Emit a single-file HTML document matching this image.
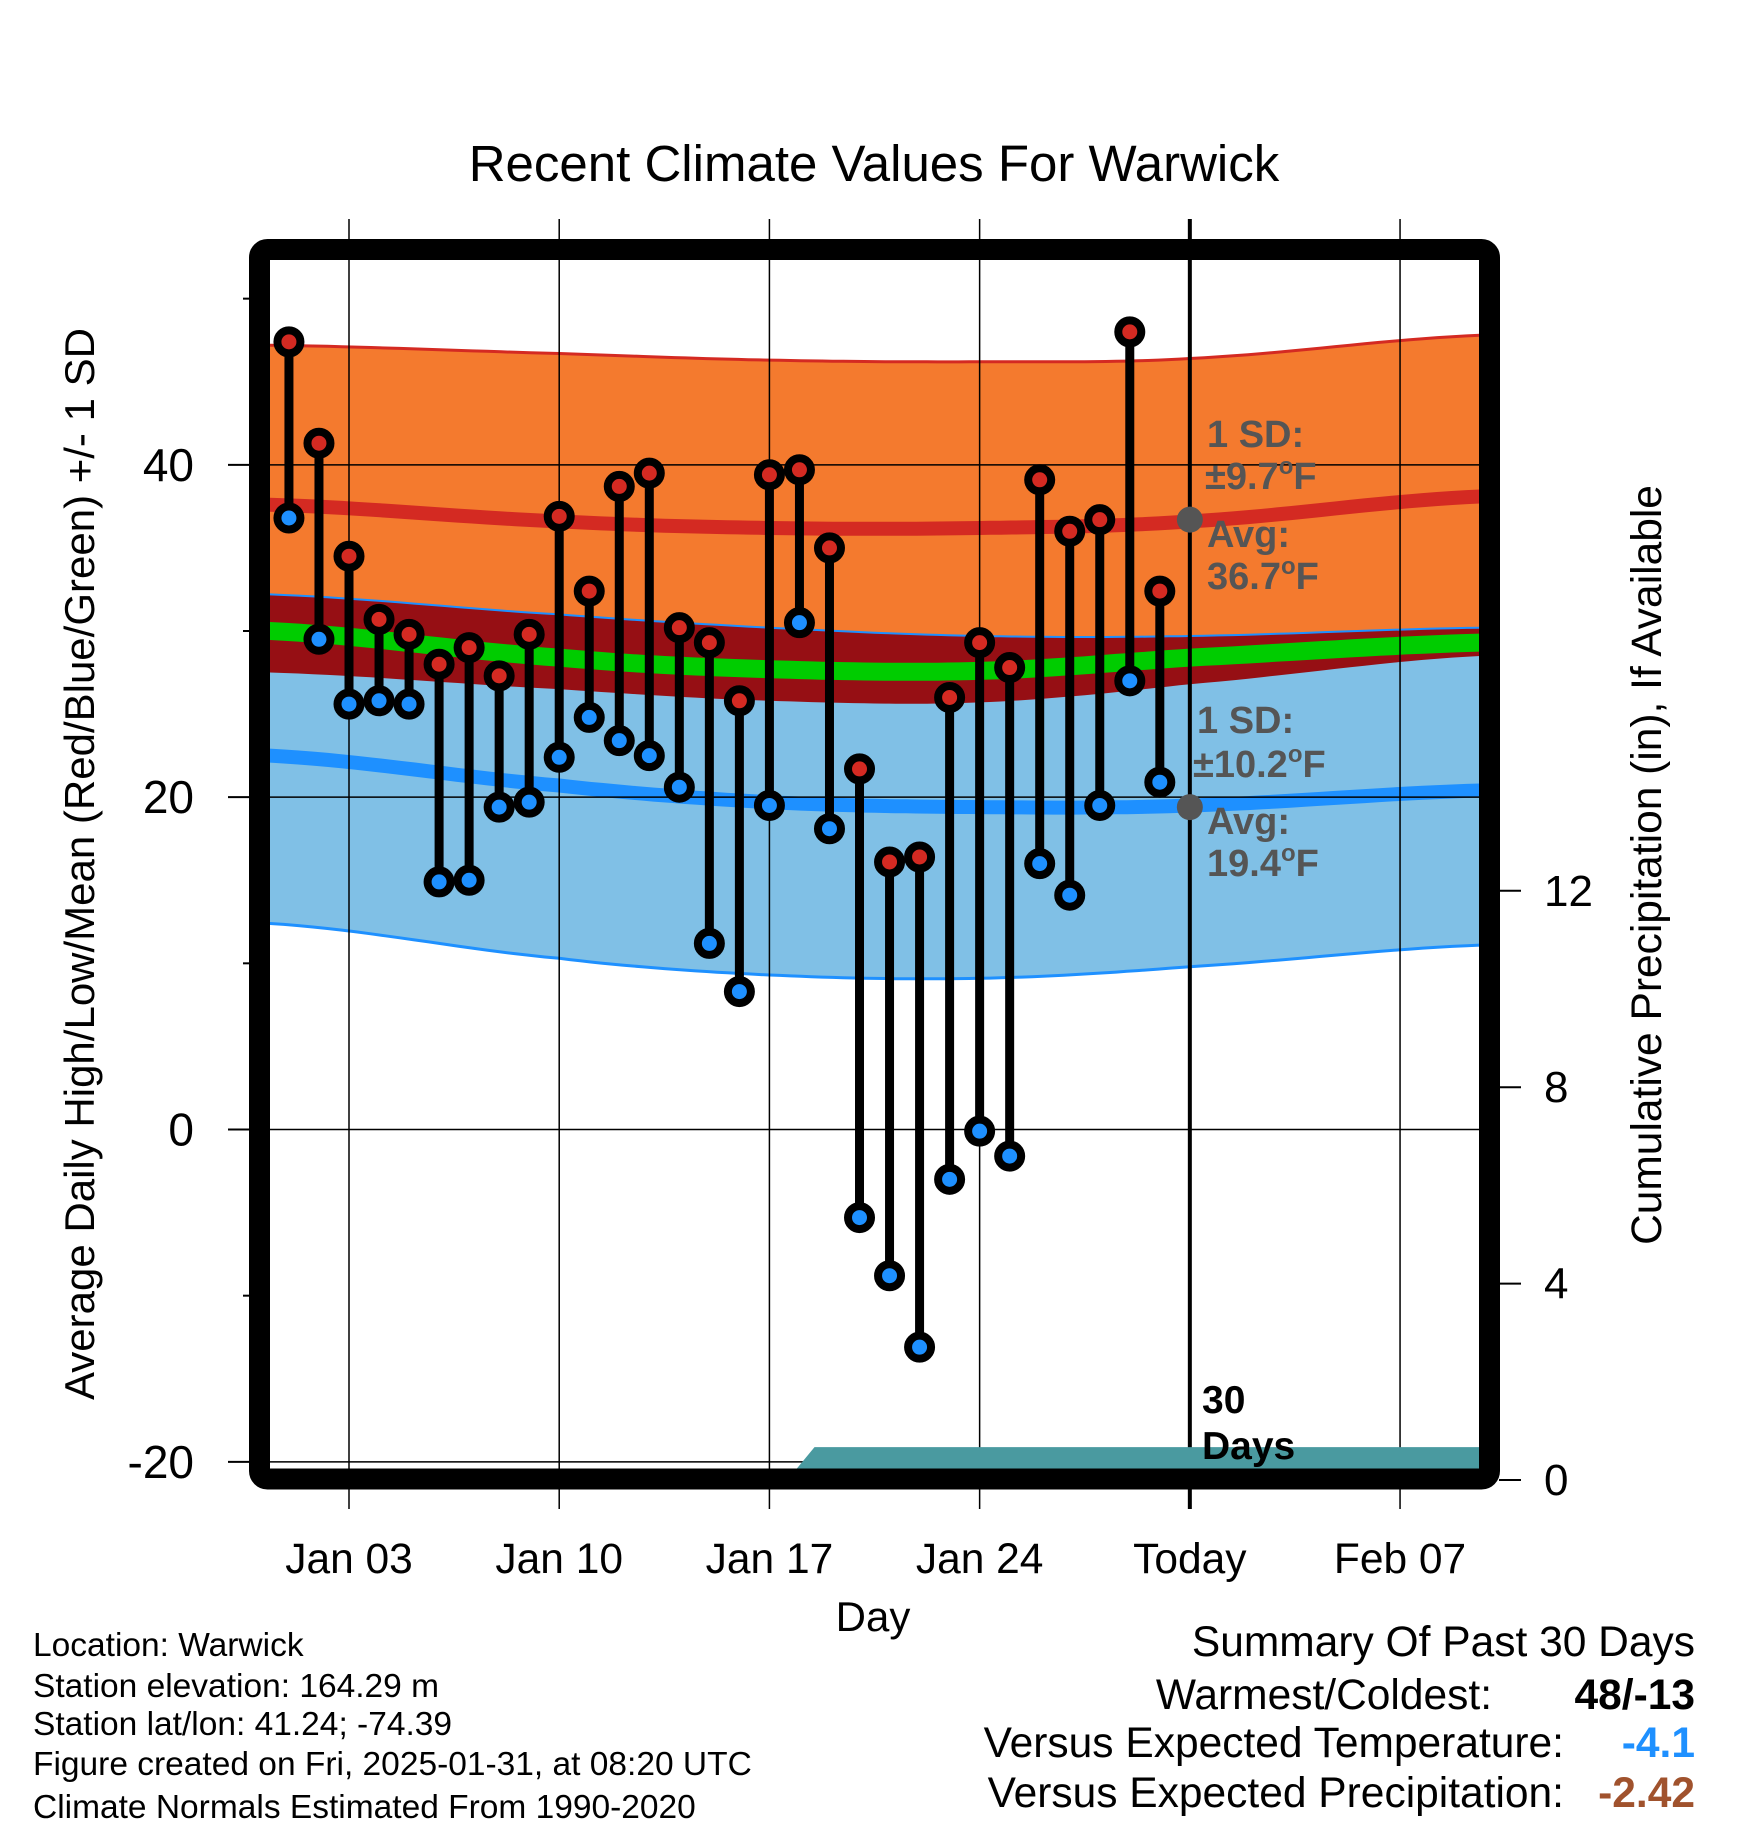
<!DOCTYPE html>
<html><head><meta charset="utf-8"><style>
html,body{margin:0;padding:0;background:#fff}
svg{display:block}
text{font-family:"Liberation Sans",Arial,sans-serif}
</style></head><body>
<svg id="chart" width="1748" height="1828" viewBox="0 0 1748 1828" xmlns="http://www.w3.org/2000/svg">
<defs><clipPath id="plotclip"><rect x="270" y="260" width="1210" height="1210"/></clipPath></defs>
<rect width="1748" height="1828" fill="#fff"/>
<text x="874" y="181" text-anchor="middle" font-size="51">Recent Climate Values For Warwick</text>
<g id="bands" clip-path="url(#plotclip)"></g>
<g id="grid"></g>
<g id="precip" clip-path="url(#plotclip)"></g>
<g id="marks"></g>
<g id="frame">
<rect x="259.5" y="249.5" width="1230" height="1229.5" rx="8" fill="none" stroke="#000" stroke-width="21"/>
</g>
<g id="axes"></g>
<g font-weight="bold" font-size="38" fill="#555">
<text x="1207" y="447">1 SD:</text>
<text x="1205" y="489">±9.7<tspan dy="-15" font-size="24">o</tspan><tspan dy="15">F</tspan></text>
<text x="1207" y="547">Avg:</text>
<text x="1207" y="589">36.7<tspan dy="-15" font-size="24">o</tspan><tspan dy="15">F</tspan></text>
<text x="1197" y="733">1 SD:</text>
<text x="1193" y="777">±10.2<tspan dy="-15" font-size="24">o</tspan><tspan dy="15">F</tspan></text>
<text x="1207" y="834">Avg:</text>
<text x="1207" y="876">19.4<tspan dy="-15" font-size="24">o</tspan><tspan dy="15">F</tspan></text>
</g>
<g font-weight="bold" font-size="39" fill="#000">
<text x="1202" y="1413">30</text><text x="1202" y="1459">Days</text>
</g>
<text x="873" y="1631" text-anchor="middle" font-size="42">Day</text>
<text transform="translate(94,864) rotate(-90)" text-anchor="middle" font-size="42">Average Daily High/Low/Mean (Red/Blue/Green) +/- 1 SD</text>
<text transform="translate(1661,865) rotate(-90)" text-anchor="middle" font-size="42.5">Cumulative Precipitation (in), If Available</text>
<g font-size="33.5">
<text x="33" y="1656">Location: Warwick</text>
<text x="33" y="1697">Station elevation: 164.29 m</text>
<text x="33" y="1735">Station lat/lon: 41.24; -74.39</text>
<text x="33" y="1775">Figure created on Fri, 2025-01-31, at 08:20 UTC</text>
<text x="33" y="1818">Climate Normals Estimated From 1990-2020</text>
</g>
<g font-size="42.5" text-anchor="end">
<text x="1695" y="1656">Summary Of Past 30 Days</text>
<text x="1492" y="1709">Warmest/Coldest:</text>
<text x="1695" y="1709" font-weight="bold">48/-13</text>
<text x="1564" y="1757">Versus Expected Temperature:</text>
<text x="1695" y="1757" font-weight="bold" fill="#1e90ff">-4.1</text>
<text x="1564" y="1807">Versus Expected Precipitation:</text>
<text x="1695" y="1807" font-weight="bold" fill="#a0522d">-2.42</text>
</g>
</svg>
<script>
// ---- data ----
const bandDays = [0.35, 10, 17, 24, 31, 40.7];
const highUpper = [47.2, 46.7, 46.3, 46.2, 46.4, 47.8];
const highAvg   = [37.6, 36.6, 36.2, 36.2, 36.6, 38.1];
const highLower = [27.5, 26.5, 25.8, 25.7, 26.8, 28.5];
const meanLine  = [30.0, 28.4, 27.7, 27.6, 28.4, 29.3];
const lowUpper  = [32.2, 31.0, 30.2, 29.7, 29.7, 30.2];
const lowAvg    = [22.5, 20.7, 19.7, 19.4, 19.5, 20.4];
const lowLower  = [12.4, 10.3, 9.3, 9.1, 9.8, 11.1];
const dayNums = [1,2,3,4,5,6,7,8,9,10,11,12,13,14,15,16,17,18,19,20,21,22,23,24,25,26,27,28,29,30];
const highs = [47.4,41.3,34.5,30.7,29.8,28.0,29.0,27.3,29.8,36.9,32.4,38.7,39.5,30.2,29.3,25.8,39.4,39.7,35.0,21.7,16.1,16.4,26.0,29.3,27.8,39.1,36.0,36.7,48.0,32.4];
const lows  = [36.8,29.5,25.6,25.8,25.6,14.9,15.0,19.4,19.7,22.4,24.8,23.4,22.5,20.6,11.2,8.3,19.5,30.5,18.1,-5.3,-8.8,-13.1,-3.0,-0.1,-1.6,16.0,14.1,19.5,27.0,20.9];
const precipDays = [17.6, 18.5, 40.7];
const precipCum  = [0, 0.67, 0.67];
const xTickDays = [3, 10, 17, 24, 31, 38];
const xTickLabels = ["Jan 03","Jan 10","Jan 17","Jan 24","Today","Feb 07"];
const yTicks = [40, 20, 0, -20];
const yMinorTicks = [50, 30, 10, -10];
const pTicks = [0, 4, 8, 12];
const todayDay = 31;
const todayHigh = 36.7;
const todayLow = 19.4;

// ---- scales ----
const NS = "http://www.w3.org/2000/svg";
function xOf(d){ return 349 + (d - 3) * 30.03; }
function yOf(f){ return 1129.5 - f * 16.617; }
function pOf(p){ return 1480 - p * 49.1; }
function mk(tag, attrs, parent){
  const e = document.createElementNS(NS, tag);
  for (const k in attrs) e.setAttribute(k, attrs[k]);
  parent.appendChild(e);
  return e;
}
function smoothPts(days, vals){
  const pts = [];
  const n = days.length;
  for (let i = 0; i < n - 1; i++) {
    const p0 = vals[Math.max(i-1,0)], p1 = vals[i], p2 = vals[i+1], p3 = vals[Math.min(i+2,n-1)];
    for (let s = 0; s < 20; s++) {
      const t = s / 20;
      const v = 0.5*((2*p1)+(-p0+p2)*t+(2*p0-5*p1+4*p2-p3)*t*t+(-p0+3*p1-3*p2+p3)*t*t*t);
      const d = days[i] + (days[i+1]-days[i])*t;
      pts.push([xOf(d), yOf(v)]);
    }
  }
  pts.push([xOf(days[n-1]), yOf(vals[n-1])]);
  return pts;
}
function band(upper, lower){
  const a = smoothPts(bandDays, upper), b = smoothPts(bandDays, lower).reverse();
  return a.concat(b).map(p => p[0].toFixed(1)+","+p[1].toFixed(1)).join(" ");
}
function line(vals){ return smoothPts(bandDays, vals).map(p => p[0].toFixed(1)+","+p[1].toFixed(1)).join(" "); }

const bands = document.getElementById("bands");
let e;
e = mk("polygon", {points: band(highUpper, highLower), fill: "#f47a2e"}, bands);


e = mk("polyline", {points: line(highUpper), fill: "none", stroke: "#d42a22", "stroke-width": 3}, bands);


e = mk("polygon", {points: band(lowUpper, lowLower), fill: "#80c0e6"}, bands);


e = mk("polygon", {points: band(lowUpper, highLower), fill: "#960f14"}, bands);


e = mk("polyline", {points: line(lowUpper), fill: "none", stroke: "#1e90ff", "stroke-width": 2}, bands);


e = mk("polyline", {points: line(lowLower), fill: "none", stroke: "#1e90ff", "stroke-width": 3}, bands);


e = mk("polyline", {points: line(meanLine), fill: "none", stroke: "#00cc00", "stroke-width": 18}, bands);


e = mk("polyline", {points: line(highAvg), fill: "none", stroke: "#d42a22", "stroke-width": 14}, bands);


e = mk("polyline", {points: line(lowAvg), fill: "none", stroke: "#1e90ff", "stroke-width": 14}, bands);



// grid
const grid = document.getElementById("grid");
yTicks.forEach(v => {
  const g = mk("line", {x1: 270, x2: 1480, y1: yOf(v), y2: yOf(v), stroke: "#000", "stroke-width": 1.5}, grid);
  
  
});
xTickDays.forEach(d => {
  const g = mk("line", {x1: xOf(d), x2: xOf(d), y1: 219, y2: 1509, stroke: "#000", "stroke-width": 1.5}, grid);
  
  
});

// precip
const pg = document.getElementById("precip");
let ppts = precipDays.map((d,i) => xOf(d).toFixed(1)+","+pOf(precipCum[i]).toFixed(1));
ppts.push(xOf(precipDays[precipDays.length-1]).toFixed(1)+",1475");
ppts.push(xOf(precipDays[0]).toFixed(1)+",1475");
e = mk("polygon", {points: ppts.join(" "), fill: "#4a9aa0"}, pg);



// today line
e = mk("line", {x1: xOf(todayDay), x2: xOf(todayDay), y1: 219, y2: 1509, stroke: "#000", "stroke-width": 4}, grid);



// daily marks
const marks = document.getElementById("marks");
dayNums.forEach((d,i) => {
  const x = xOf(d);
  const s = mk("line", {x1: x, x2: x, y1: yOf(highs[i]), y2: yOf(lows[i]), stroke: "#000", "stroke-width": 9}, marks);
  
  
});
dayNums.forEach((d,i) => {
  const x = xOf(d);
  const h = mk("circle", {cx: x, cy: yOf(highs[i]), r: 11.5, fill: "#d42a22", stroke: "#000", "stroke-width": 8}, marks);
  
  
  const l = mk("circle", {cx: x, cy: yOf(lows[i]), r: 11.5, fill: "#1e90ff", stroke: "#000", "stroke-width": 8}, marks);
  
  
});
e = mk("circle", {cx: xOf(todayDay), cy: yOf(todayHigh), r: 13, fill: "#555"}, marks);


e = mk("circle", {cx: xOf(todayDay), cy: yOf(todayLow), r: 13, fill: "#555"}, marks);



// axes
const ax = document.getElementById("axes");
yTicks.forEach(v => {
  const t = mk("line", {x1: 228, x2: 250, y1: yOf(v), y2: yOf(v), stroke: "#000", "stroke-width": 2}, ax);
  
  
  const l = mk("text", {x: 194, y: yOf(v) + 16, "text-anchor": "end", "font-size": 46}, ax);
  l.textContent = String(v);
  
  
});
yMinorTicks.forEach(v => {
  const t = mk("line", {x1: 243, x2: 250, y1: yOf(v), y2: yOf(v), stroke: "#000", "stroke-width": 2}, ax);
  
  
});
pTicks.forEach(v => {
  const t = mk("line", {x1: 1499, x2: 1521, y1: pOf(v), y2: pOf(v), stroke: "#000", "stroke-width": 2}, ax);
  
  
  const l = mk("text", {x: 1544, y: pOf(v) + 15, "font-size": 44}, ax);
  l.textContent = String(v);
  
  
});
xTickDays.forEach((d,i) => {
  const l = mk("text", {x: xOf(d), y: 1573, "text-anchor": "middle", "font-size": 42.5}, ax);
  l.textContent = xTickLabels[i];
  
  
});
</script>
</body></html>
